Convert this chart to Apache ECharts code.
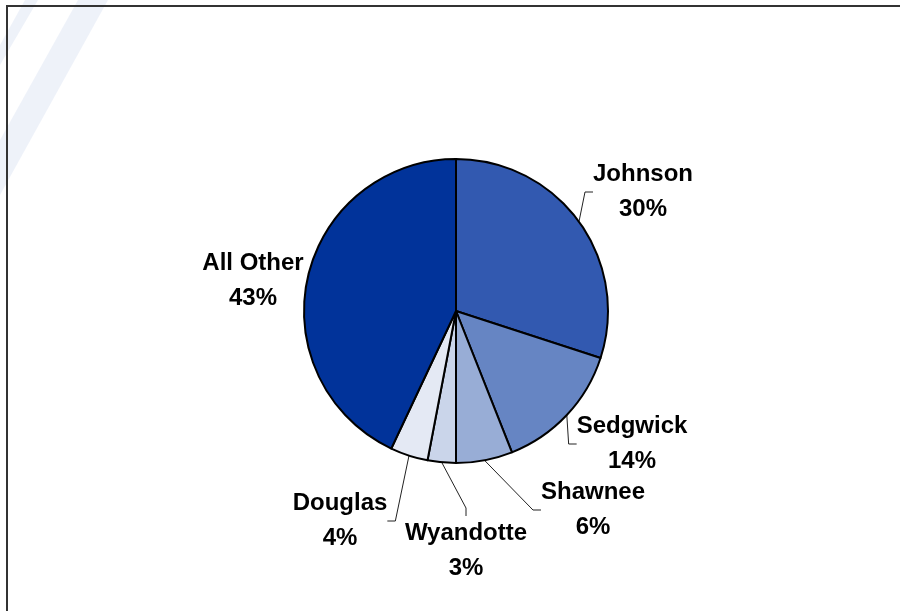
<!DOCTYPE html>
<html>
<head>
<meta charset="utf-8">
<script src="https://cdn.jsdelivr.net/npm/echarts@6/dist/echarts.min.js"></script>
<style>
html,body{margin:0;padding:0;background:#fff;}
#chart{width:900px;height:611px;}
</style>
</head>
<body>
<div id="chart"></div>
<script>
const categories = ['Johnson', 'Sedgwick', 'Shawnee', 'Wyandotte', 'Douglas', 'All Other'];
const values = [30, 14, 6, 3, 4, 43];
const colors = ['#3259B0', '#6685C3', '#98ADD6', '#CAD5EA', '#E4E9F4', '#01339A'];
// label anchor positions (styling)
const labelPos = {
  'Johnson': [643, 192],
  'Sedgwick': [632, 444],
  'Shawnee': [593, 510],
  'Wyandotte': [466, 551],
  'Douglas': [340, 521],
  'All Other': [253, 281]
};

const chart = echarts.init(document.getElementById('chart'), null, {renderer: 'canvas'});
const data = categories.map((c, i) => ({
  name: c,
  value: values[i],
  itemStyle: {color: colors[i]},
  labelLine: {show: c !== 'All Other'}
}));

chart.setOption({
  backgroundColor: '#ffffff',
  animation: false,
  graphic: [
    {type: 'polygon', silent: true, z: -1, shape: {points: [[25,0],[38,0],[0,65],[0,45]]}, style: {fill: 'rgba(150,175,220,0.16)'}},
    {type: 'polygon', silent: true, z: -1, shape: {points: [[78,0],[108,0],[0,195],[0,140]]}, style: {fill: 'rgba(150,175,220,0.16)'}},
    {type: 'rect', silent: true, z: 10, shape: {x: 7, y: 6, width: 1000, height: 1000}, style: {fill: 'none', stroke: '#333333', lineWidth: 2}}
  ],
  series: [{
    type: 'pie',
    center: [456, 311],
    radius: 152,
    startAngle: 90,
    clockwise: true,
    data: data,
    itemStyle: {borderColor: '#000000', borderWidth: 2},
    emphasis: {disabled: true},
    label: {
      show: true,
      position: 'outside',
      formatter: '{b}\n{c}%',
      fontFamily: '"Liberation Sans", Arial, sans-serif',
      fontWeight: 'bold',
      fontSize: 24,
      lineHeight: 35,
      color: '#000',
      align: 'center'
    },
    labelLine: {
      show: true,
      length: 12,
      length2: 8,
      lineStyle: {color: '#222', width: 1}
    },
    labelLayout: function (params) {
      const name = categories[params.dataIndex];
      const p = labelPos[name];
      return {x: p[0], y: p[1], align: 'center', verticalAlign: 'middle'};
    }
  }]
});
</script>
</body>
</html>
